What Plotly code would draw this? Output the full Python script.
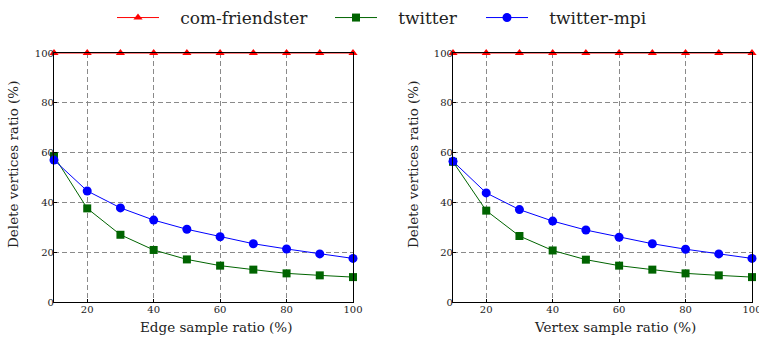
import plotly.graph_objects as go

x_vals = [10, 20, 30, 40, 50, 60, 70, 80, 90, 100]

edge_friendster = [100, 100, 100, 100, 100, 100, 100, 100, 100, 100]
edge_twitter = [58.6, 37.6, 27.0, 20.9, 17.1, 14.6, 13.0, 11.5, 10.7, 10.0]
edge_twitter_mpi = [57.0, 44.6, 37.8, 32.9, 29.2, 26.2, 23.4, 21.3, 19.3, 17.5]

vertex_friendster = [100, 100, 100, 100, 100, 100, 100, 100, 100, 100]
vertex_twitter = [56.3, 36.7, 26.5, 20.7, 17.0, 14.6, 13.0, 11.5, 10.7, 10.0]
vertex_twitter_mpi = [56.5, 43.8, 37.1, 32.5, 28.9, 26.0, 23.4, 21.2, 19.3, 17.5]

x_ticks = [20, 40, 60, 80, 100]
y_ticks = [0, 20, 40, 60, 80, 100]

series_names = ["com-friendster", "twitter", "twitter-mpi"]
colors = ["#ff0000", "#006400", "#0000ff"]
symbols = ["triangle-up", "square", "circle"]
sizes = [8, 8, 9]
legend_ids = ["legend", "legend2", "legend3"]
legend_line_start = [117, 335, 486]

x_titles = ["Edge sample ratio (%)", "Vertex sample ratio (%)"]
y_title = "Delete vertices ratio (%)"

W, H = 759, 342
fig = go.Figure()

pad = "\u00a0\u00a0\u00a0"
panels = [
    ("x", "y", [edge_friendster, edge_twitter, edge_twitter_mpi], True),
    ("x2", "y2", [vertex_friendster, vertex_twitter, vertex_twitter_mpi], False),
]
for xa, ya, data, show in panels:
    for name, vals, c, s, sz, lg in zip(series_names, data, colors, symbols, sizes, legend_ids):
        fig.add_trace(go.Scatter(
            x=x_vals, y=vals, name=pad + name, mode="lines+markers",
            line=dict(color=c, width=1.0),
            marker=dict(symbol=s, size=sz, color=c),
            xaxis=xa, yaxis=ya, showlegend=show, cliponaxis=False, legend=lg,
        ))

font = "DejaVu Serif"
axis_common = dict(
    showline=True, linecolor="black", linewidth=1.1, mirror=True,
    showgrid=True, gridcolor="#8a8a8a", griddash="5px,3px", gridwidth=1,
    zeroline=False, ticks="inside", ticklen=3, tickcolor="black",
    tickfont=dict(family=font, size=10, color="#222"), automargin=False,
    ticklabeloverflow="allow",
)
title_font = dict(family=font, size=13.5, color="#222")
ydom = [1 - 302 / H, 1 - 53 / H]

legend_common = dict(orientation="h", y=1.0, yanchor="top", xanchor="left",
                     font=dict(family=font, size=17, color="#222"),
                     itemwidth=42, bgcolor="rgba(0,0,0,0)", borderwidth=0)
legends = {lg: dict(x=(ls - 5) / W, **legend_common)
           for lg, ls in zip(legend_ids, legend_line_start)}

# axis titles as annotations (reference places them slightly off the domain centre)
annotations = []
for text, cx in zip(x_titles, [216, 615]):
    annotations.append(dict(text=text, x=cx / W, y=1 - 327 / H, xref="paper", yref="paper",
                            xanchor="center", yanchor="middle", showarrow=False, font=title_font))
for cx in [13, 413]:
    annotations.append(dict(text=y_title, x=cx / W, y=1 - 165 / H, xref="paper", yref="paper",
                            xanchor="center", yanchor="middle", textangle=-90,
                            showarrow=False, font=title_font))

fig.update_layout(
    width=W, height=H,
    margin=dict(l=0, r=0, t=0, b=0),
    paper_bgcolor="white", plot_bgcolor="white",
    font=dict(family=font, color="#222"),
    showlegend=True,
    xaxis=dict(domain=[54 / W, 353 / W], range=[10, 100], tickvals=x_ticks,
               ticklabelstandoff=-2, anchor="y", **axis_common),
    yaxis=dict(domain=ydom, range=[0, 100], tickvals=y_ticks,
               ticklabelstandoff=-3, anchor="x", **axis_common),
    xaxis2=dict(domain=[453 / W, 752 / W], range=[10, 100], tickvals=x_ticks,
                ticklabelstandoff=-2, anchor="y2", **axis_common),
    yaxis2=dict(domain=ydom, range=[0, 100], tickvals=y_ticks,
                ticklabelstandoff=-3, anchor="x2", **axis_common),
    annotations=annotations,
    **legends,
)
fig.write_html("out.html", config={"displayModeBar": False},
               post_script="document.body.style.margin='0';")
